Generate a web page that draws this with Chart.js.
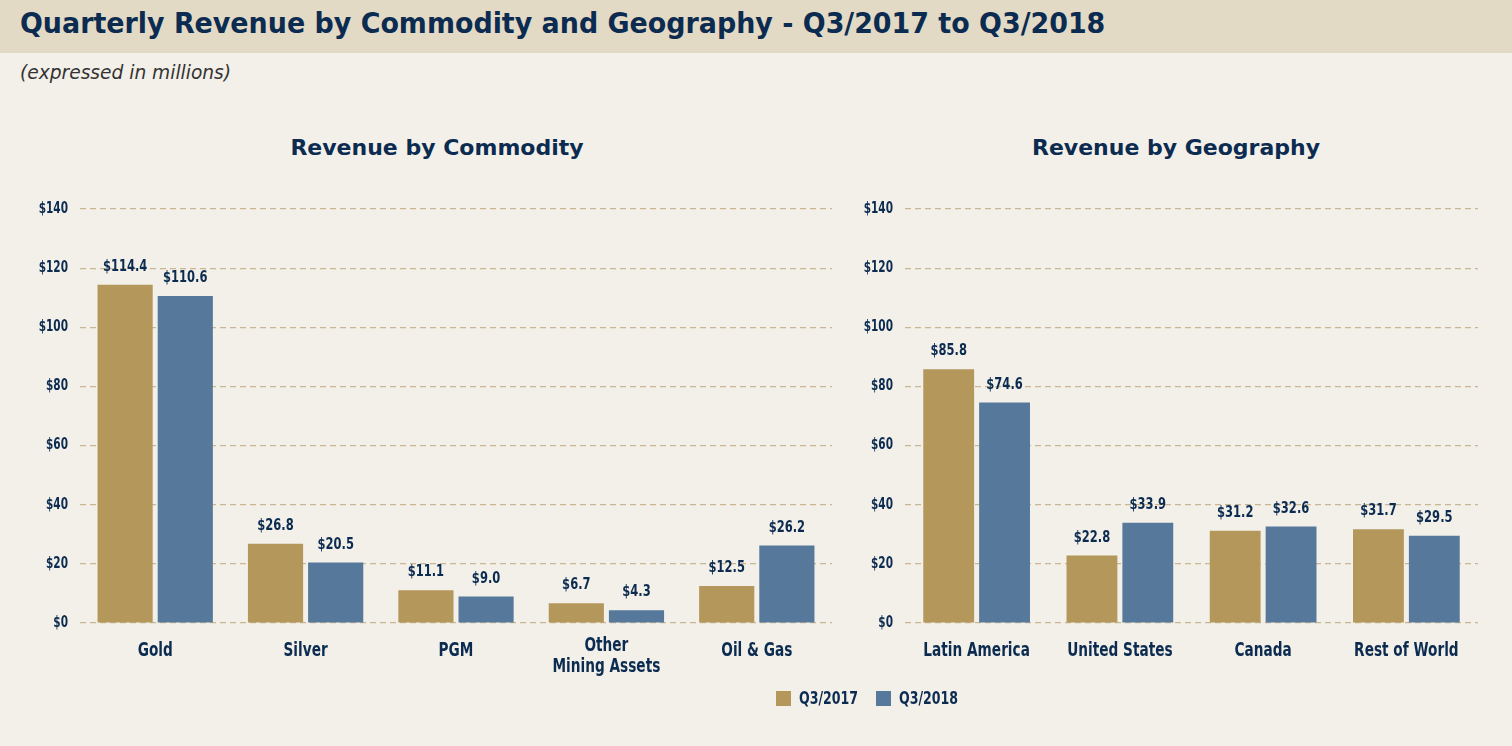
<!DOCTYPE html>
<html>
<head>
<meta charset="utf-8">
<script src="https://cdn.jsdelivr.net/npm/chart.js@4"></script>
<style>
  html, body { margin: 0; padding: 0; }
  body { width: 1512px; height: 746px; background: #f3f0e9; position: relative; overflow: hidden; font-family: "DejaVu Sans", sans-serif; }
  .band { position: absolute; left: 0; top: 0; width: 1512px; height: 53px; background: #e3dac6; }
  .title { position: absolute; left: 20px; top: 6px; font: bold 29px "DejaVu Sans", sans-serif; color: #0c2b50; white-space: nowrap; transform-origin: left top; }
  .sub { position: absolute; left: 20px; top: 60px; font: italic 20px "DejaVu Sans Condensed", sans-serif; color: #333; white-space: nowrap; transform-origin: left top; }
  .ctitle { position: absolute; top: 135px; font: bold 22px "DejaVu Sans", sans-serif; color: #0c2b50; white-space: nowrap; transform: translateX(-50%); }
  canvas { position: absolute; }
  .lg { position: absolute; font: bold 18px "DejaVu Sans Condensed", sans-serif; color: #0c2b50; white-space: nowrap; transform-origin: left top; }
  .box { position: absolute; width: 15px; height: 15px; top: 691px; }
</style>
</head>
<body>
<div class="band"></div>
<div class="title" id="title">Quarterly Revenue by Commodity and Geography - Q3/2017 to Q3/2018</div>
<div class="sub" id="sub">(expressed in millions)</div>
<div class="ctitle" style="left:437px">Revenue by Commodity</div>
<div class="ctitle" style="left:1176px">Revenue by Geography</div>
<div style="position:absolute;left:0;top:180px;width:845px;height:520px"><canvas id="commodity"></canvas></div>
<div style="position:absolute;left:845px;top:180px;width:667px;height:520px"><canvas id="geography"></canvas></div>
<div class="box" style="left:776px;background:#b3975b"></div>
<div class="lg" id="lg1" style="left:799px;top:687px">Q3/2017</div>
<div class="box" style="left:876px;background:#56789b"></div>
<div class="lg" id="lg2" style="left:899px;top:687px">Q3/2018</div>
<script>
const seriesNames = ["Q3/2017", "Q3/2018"];
const commodityLabels = ["Gold", "Silver", "PGM", ["Other", "Mining Assets"], "Oil & Gas"];
const commodity2017 = [114.4, 26.8, 11.1, 6.7, 12.5];
const commodity2018 = [110.6, 20.5, 9.0, 4.3, 26.2];
const geographyLabels = ["Latin America", "United States", "Canada", "Rest of World"];
const geography2017 = [85.8, 22.8, 31.2, 31.7];
const geography2018 = [74.6, 33.9, 32.6, 29.5];
const yMax = 140;
const yStep = 20;

const gold = "#b3975b";
const blue = "#56789b";
const navy = "#0c2b50";
const condensed = '"DejaVu Sans Condensed", sans-serif';

// squeeze html text to the widths seen in the reference
function fitWidth(id, w) {
  const el = document.getElementById(id);
  el.style.transform = "scaleX(" + (w / el.offsetWidth) + ")";
}
fitWidth("title", 1085);
fitWidth("sub", 211);
fitWidth("lg1", 59);
fitWidth("lg2", 59);

// narrow text helper: the reference uses a condensed face
function narrowText(ctx, text, x, y, sx) {
  ctx.save();
  ctx.translate(x, y);
  ctx.scale(sx, 1);
  ctx.fillText(text, 0, 0);
  ctx.restore();
}

const valueLabels = {
  id: "valueLabels",
  afterDatasetsDraw(chart) {
    const ctx = chart.ctx;
    ctx.save();
    ctx.font = "bold 16px " + condensed;
    ctx.fillStyle = navy;
    ctx.textAlign = "center";
    ctx.textBaseline = "bottom";
    chart.data.datasets.forEach((ds, i) => {
      chart.getDatasetMeta(i).data.forEach((bar, j) => {
        narrowText(ctx, "$" + ds.data[j].toFixed(1), bar.x, bar.y - 10, 0.8);
      });
    });
    ctx.restore();
  }
};

const categoryLabels = {
  id: "categoryLabels",
  afterDraw(chart) {
    const ctx = chart.ctx;
    const x = chart.scales.x;
    ctx.save();
    ctx.font = "bold 19px " + condensed;
    ctx.fillStyle = navy;
    ctx.textAlign = "center";
    ctx.textBaseline = "middle";
    chart.data.labels.forEach((lab, i) => {
      const lines = Array.isArray(lab) ? lab : [lab];
      const top = lines.length > 1 ? 23 : 28;
      lines.forEach((s, k) => {
        narrowText(ctx, s, x.getPixelForTick(i), chart.chartArea.bottom + top + k * 21, 0.8);
      });
    });
    ctx.restore();
  }
};

const yLabels = {
  id: "yLabels",
  afterDraw(chart) {
    const ctx = chart.ctx;
    const y = chart.scales.y;
    ctx.save();
    ctx.font = "bold 15px " + condensed;
    ctx.fillStyle = navy;
    ctx.textAlign = "right";
    ctx.textBaseline = "middle";
    y.ticks.forEach((t, i) => {
      narrowText(ctx, "$" + t.value, y.right - 12, y.getPixelForTick(i), 0.78);
    });
    ctx.restore();
  }
};

function makeChart(id, labels, a, b, yWidth, padRight, catPct, barPct) {
  return new Chart(document.getElementById(id), {
    type: "bar",
    data: {
      labels: labels,
      datasets: [
        { label: seriesNames[0], data: a, backgroundColor: gold, categoryPercentage: catPct, barPercentage: barPct },
        { label: seriesNames[1], data: b, backgroundColor: blue, categoryPercentage: catPct, barPercentage: barPct }
      ]
    },
    options: {
      maintainAspectRatio: false,
      animation: false,
      layout: { padding: { top: 29, right: padRight, left: 0, bottom: 0 } },
      plugins: { legend: { display: false }, tooltip: { enabled: false } },
      scales: {
        x: {
          grid: { display: false },
          border: { display: false },
          ticks: { display: false },
          afterFit(scale) { scale.height = 77; }
        },
        y: {
          min: 0, max: yMax,
          border: { display: false, dash: [6, 4] },
          grid: { color: "#c8b694", lineWidth: 1.2, drawTicks: false },
          ticks: { stepSize: yStep, display: false },
          afterFit(scale) { scale.width = yWidth; }
        }
      }
    },
    plugins: [valueLabels, categoryLabels, yLabels]
  });
}

makeChart("commodity", commodityLabels, commodity2017, commodity2018, 80, 13, 0.8, 0.917);
makeChart("geography", geographyLabels, geography2017, geography2018, 60, 34, 0.78, 0.91);
</script>
</body>
</html>
